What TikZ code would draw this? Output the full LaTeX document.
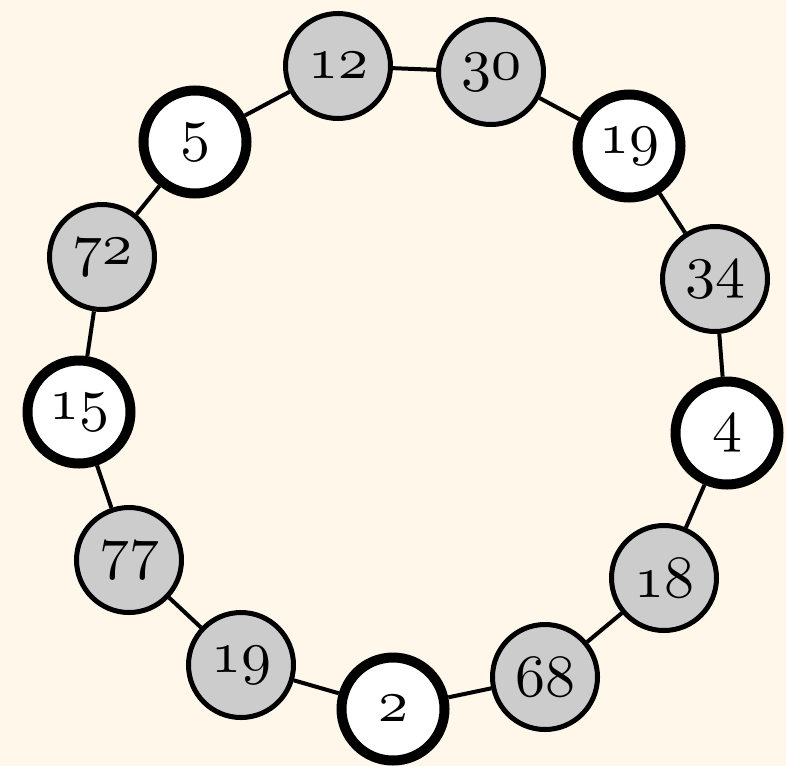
\documentclass[tikz,border=0pt]{standalone}
\definecolor{bgc}{RGB}{255,247,234}
\definecolor{nodegray}{RGB}{204,204,204}
\font\osfont=cmmi10 at 30pt
\newcommand\osnum[1]{{\osfont #1}}
\begin{document}
\begin{tikzpicture}[x=0.5pt,y=-0.5pt,
  graynode/.style={circle,draw=black,fill=nodegray,line width=2.5pt,minimum size=52.5pt,inner sep=0pt},
  whitenode/.style={circle,draw=black,fill=white,line width=5pt,minimum size=51.5pt,inner sep=0pt},
  link/.style={line width=2pt,draw=black}]
\fill[bgc] (0,0) rectangle (786,766);
\useasboundingbox (0,0) rectangle (786,766);
\node[graynode] (n12) at (338,66) {\osnum{12}};
\node[graynode] (n30) at (491,72) {\osnum{30}};
\node[whitenode] (n19a) at (629,146) {\osnum{19}};
\node[graynode] (n34) at (715,279) {\osnum{34}};
\node[whitenode] (n4) at (727,433) {\osnum{4}};
\node[graynode] (n18) at (664,578) {\osnum{18}};
\node[graynode] (n68) at (545,677) {\osnum{68}};
\node[whitenode] (n2) at (393,709) {\osnum{2}};
\node[graynode] (n19b) at (241,665) {\osnum{19}};
\node[graynode] (n77) at (129,560) {\osnum{77}};
\node[whitenode] (n15) at (79,412) {\osnum{15}};
\node[graynode] (n72) at (102,257) {\osnum{72}};
\node[whitenode] (n5) at (195,142) {\osnum{5}};
\foreach \a/\b in {n12/n30,n30/n19a,n19a/n34,n34/n4,n4/n18,n18/n68,n68/n2,n2/n19b,n19b/n77,n77/n15,n15/n72,n72/n5,n5/n12}
  \draw[link] (\a) -- (\b);
\end{tikzpicture}
\end{document}
